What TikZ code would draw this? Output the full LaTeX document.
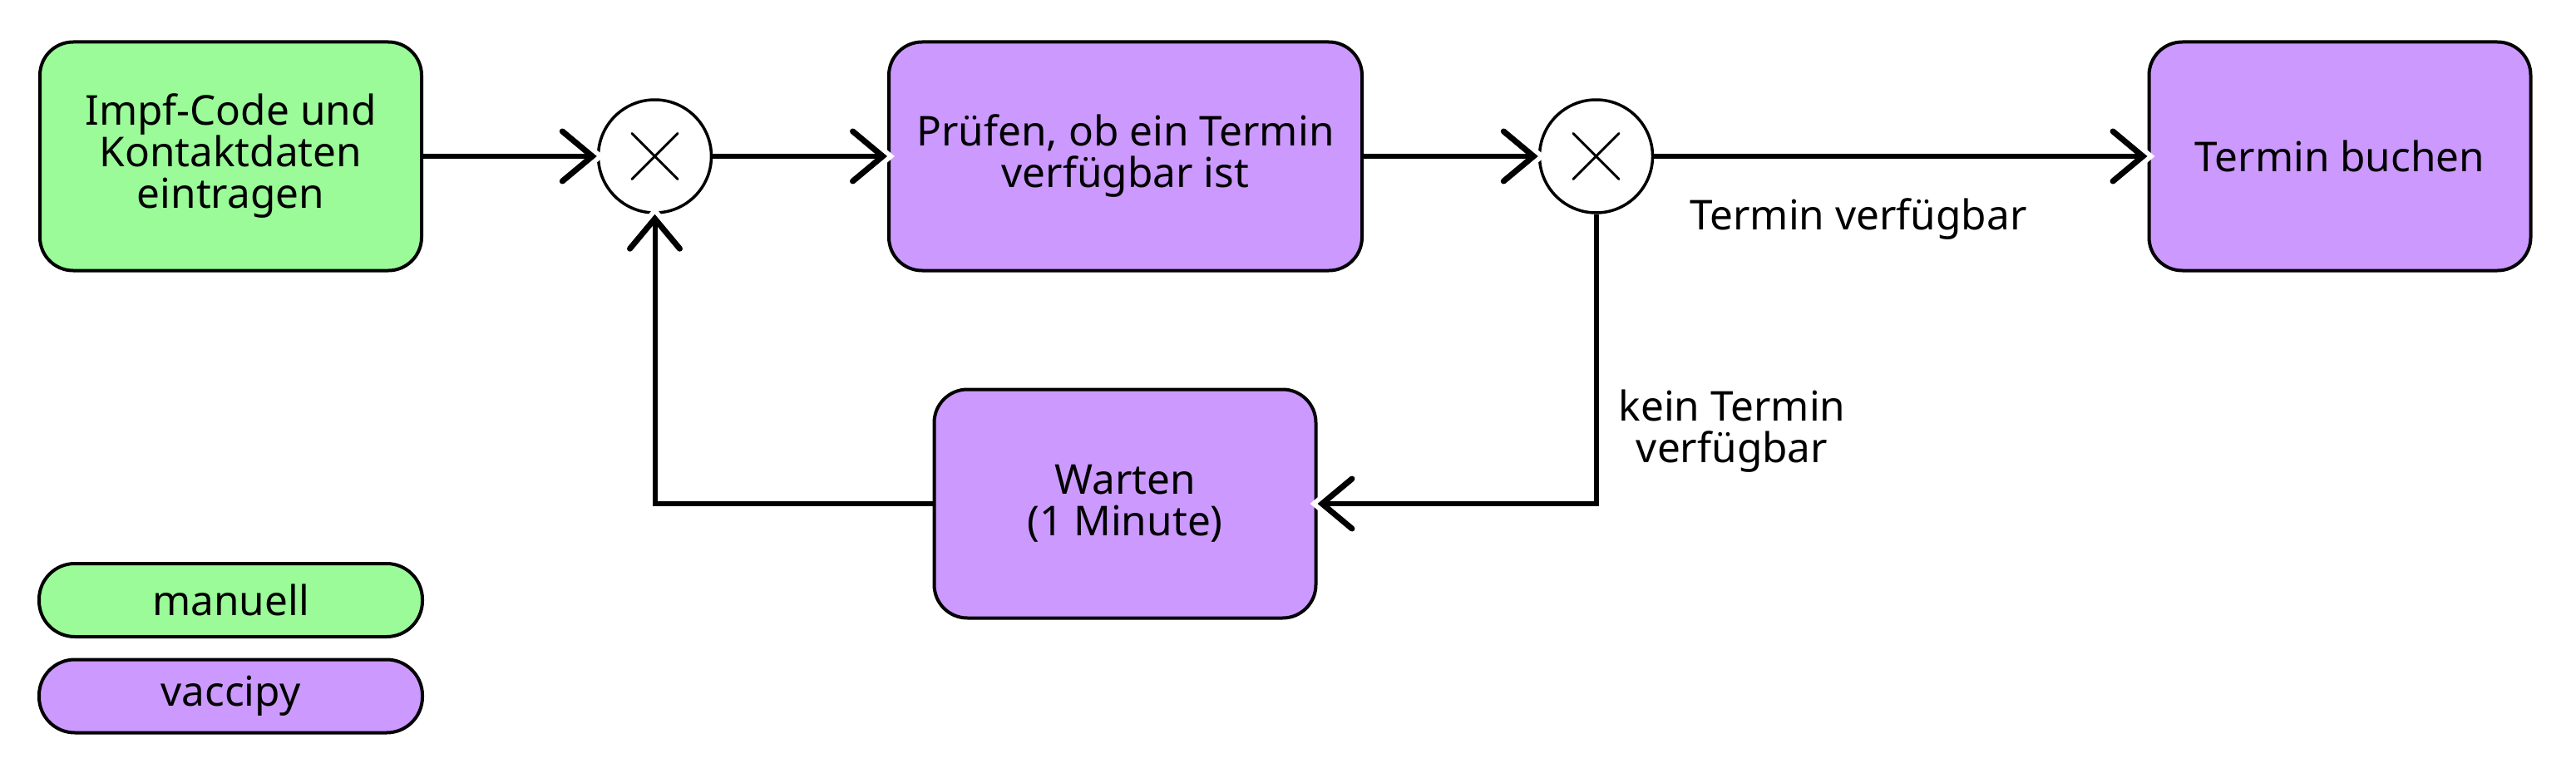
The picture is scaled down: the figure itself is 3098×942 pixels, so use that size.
\documentclass[tikz,border=0pt]{standalone}
\usepackage{fontspec}
\setmainfont{Noto Sans}
\usetikzlibrary{arrows.meta}
\definecolor{manualgreen}{RGB}{154,251,152}
\definecolor{botpurple}{RGB}{204,153,255}
\begin{document}
\begin{tikzpicture}[x=1pt,y=-1pt,
  txt/.style={font=\fontsize{49.5}{50}\selectfont, align=center},
  taskbox/.style={txt, draw=black, line width=4pt, rounded corners=40pt,
    minimum width=459pt, minimum height=275pt, inner sep=0pt},
  manualtask/.style={taskbox, fill=manualgreen},
  vaccitask/.style={taskbox, fill=botpurple},
  legendbox/.style={txt, draw=black, line width=4pt, rounded corners=43pt,
    minimum width=461pt, minimum height=88pt, inner sep=0pt},
  gateway/.style={circle, draw=black, line width=3.5pt, fill=white,
    minimum size=136pt, inner sep=0pt,
    path picture={\draw[line width=3pt, line cap=round]
      ([shift={(-27.5,-27.5)}]path picture bounding box.center) -- ([shift={(27.5,27.5)}]path picture bounding box.center)
      ([shift={(-27.5,27.5)}]path picture bounding box.center) -- ([shift={(27.5,-27.5)}]path picture bounding box.center);}},
  flow/.style={draw=black, line width=6pt,
    -{Straight Barb[length=36pt,width=60pt,line width=7pt,line cap=round,line join=miter]}},
  halo/.style={draw=white, line width=16pt, shorten <=16pt, shorten >=-9pt,
    -{Straight Barb[length=36pt,width=60pt,line width=16pt,line cap=round,line join=miter]}},
  lbl/.style={txt, inner sep=0pt}
]
\useasboundingbox (0,0) rectangle (3098,942);

% tasks
\node[manualtask] (b1) at (277.5,188) {Impf-Code und\\Kontaktdaten\\eintragen};
\node[vaccitask, minimum width=569pt] (b2) at (1353.5,188) {Prüfen, ob ein Termin\\verfügbar ist};
\node[vaccitask] (b3) at (2814,188) {Termin buchen};
\node[vaccitask] (w) at (1353,606) {Warten\\(1 Minute)};

% gateways
\node[gateway] (g1) at (787.5,188) {};
\node[gateway] (g2) at (1919.5,188) {};

% legend
\node[legendbox, fill=manualgreen] (l1) at (277.5,722) {manuell};
\node[legendbox, fill=botpurple] (l2) at (277.5,837.5) {vaccipy};

% halos
\draw[halo] (b1.east) -- (g1.west);
\draw[halo] (g1.east) -- (b2.west);
\draw[halo] (b2.east) -- (g2.west);
\draw[halo] (g2.east) -- (b3.west);
\draw[halo] (g2.south) |- (w.east);
\draw[halo] (w.west) -| (g1.south);

% flows
\draw[flow] (b1.east) -- (g1.west);
\draw[flow] (g1.east) -- (b2.west);
\draw[flow] (b2.east) -- (g2.west);
\draw[flow] (g2.east) -- (b3.west);
\draw[flow] (g2.south) |- (w.east);
\draw[flow] (w.west) -| (g1.south);

% labels
\node[lbl, anchor=base] (t1) at (2235,276) {Termin verfügbar};
\node[lbl] (t2) at (2083,518.5) {kein Termin\\verfügbar};
\end{tikzpicture}
\end{document}
